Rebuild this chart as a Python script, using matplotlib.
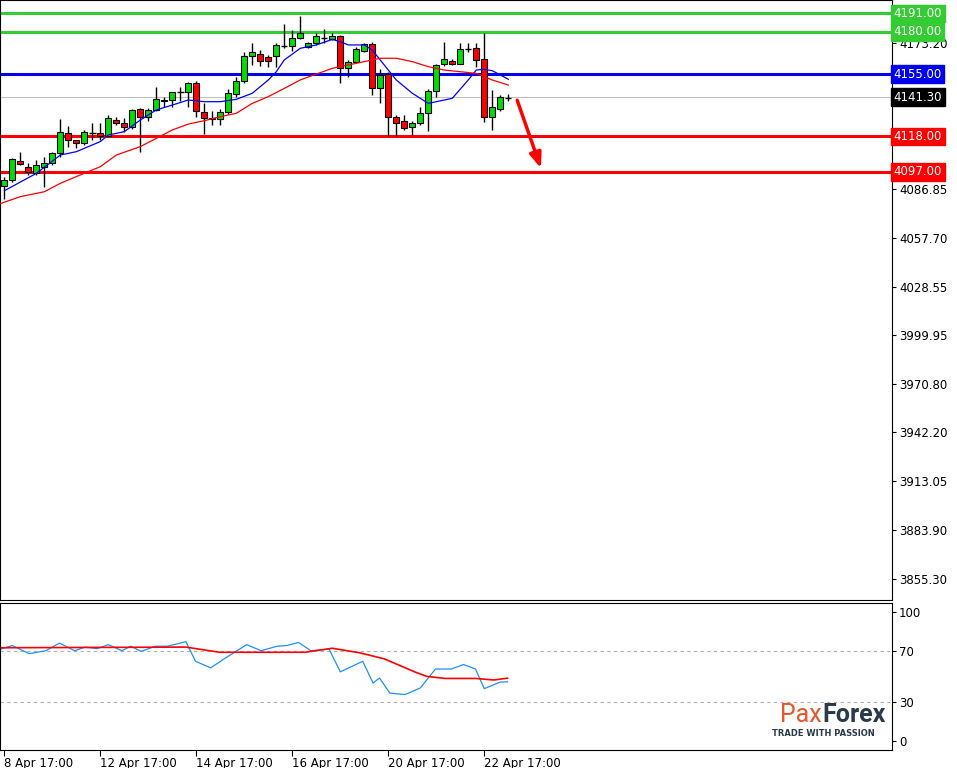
import matplotlib
matplotlib.use("Agg")
import matplotlib.pyplot as plt
import numpy as np

opens = [4088.7,4092.1,4103.2,4100.0,4096.0,4100.0,4102.0,4107.9,4119.8,4115.6,4113.9,4119.8,4119.8,4118.2,4127.7,4125.7,4123.4,4134.1,4129.3,4133.7,4139.8,4139.6,4144.6,4144.2,4149.5,4132.7,4128.5,4128.1,4132.7,4143.0,4150.9,4165.7,4166.9,4165.3,4165.7,4171.9,4171.9,4176.2,4171.3,4173.3,4176.2,4175.8,4177.6,4158.4,4162.0,4168.9,4172.7,4146.9,4155.0,4129.7,4127.3,4123.4,4125.7,4131.7,4145.1,4160.8,4162.8,4161.0,4169.7,4170.3,4163.8,4129.7,4134.1,4141.0]
closes = [4092.1,4104.8,4101.4,4097.0,4100.8,4102.0,4107.9,4120.4,4115.8,4113.9,4120.4,4120.2,4118.2,4128.7,4126.1,4123.4,4133.7,4129.3,4133.7,4140.2,4139.2,4144.2,4144.9,4149.5,4133.1,4128.7,4129.1,4132.7,4143.6,4150.7,4165.7,4167.9,4163.0,4163.0,4172.3,4172.3,4176.2,4179.2,4173.3,4177.6,4176.6,4177.6,4158.4,4162.0,4169.9,4172.7,4146.9,4154.5,4129.7,4125.7,4123.2,4125.7,4131.7,4145.1,4160.4,4163.8,4161.0,4169.7,4170.1,4163.4,4129.7,4135.6,4141.2,4141.4]
highs = [4094.1,4105.1,4108.5,4102.0,4104.0,4105.9,4108.9,4128.3,4124.2,4115.8,4121.8,4125.7,4125.7,4130.7,4129.3,4128.7,4134.1,4134.7,4134.7,4147.1,4141.6,4144.6,4147.1,4150.5,4151.1,4137.6,4133.1,4134.1,4145.9,4153.5,4168.3,4173.3,4169.3,4166.3,4173.7,4184.7,4181.2,4189.5,4174.2,4179.2,4181.8,4179.2,4178.2,4163.4,4171.3,4173.7,4174.2,4157.8,4156.4,4130.7,4130.7,4127.3,4135.6,4145.9,4161.0,4174.2,4163.8,4173.3,4173.7,4173.3,4179.2,4145.5,4142.6,4143.0]
lows = [4080.6,4091.1,4101.0,4095.1,4095.1,4088.1,4101.0,4105.9,4111.9,4111.3,4112.9,4115.8,4115.8,4117.8,4124.8,4120.8,4122.2,4108.9,4127.3,4133.3,4135.2,4135.6,4139.2,4135.6,4129.7,4119.4,4124.8,4124.8,4131.3,4141.6,4149.5,4160.2,4159.8,4159.0,4159.0,4170.3,4168.9,4175.8,4170.3,4172.3,4173.3,4175.2,4149.5,4153.1,4161.4,4167.9,4142.6,4138.0,4118.2,4118.2,4121.8,4118.8,4124.8,4121.4,4141.6,4160.0,4160.4,4161.0,4168.3,4159.4,4126.3,4121.8,4133.3,4139.0]

ma_fast_x = [0,4,7,9,12,13,15,17,19,21,23,25,27,29,31,33,34,35,37,39,41,42,43,45,46,48,49,51,53,54,56,58,59,60,61,62,63]
ma_fast_y = [4085.7,4096.0,4106.9,4108.9,4114.9,4118.8,4120.8,4127.7,4133.7,4136.6,4139.6,4138.6,4138.6,4140.0,4143.6,4151.5,4156.4,4163.4,4170.3,4172.3,4175.6,4174.2,4172.3,4172.3,4169.3,4157.4,4151.5,4143.6,4137.6,4138.6,4140.6,4151.5,4157.4,4157.8,4157.0,4154.5,4151.9]
ma_slow_x = [-1,2,5,7,9,12,14,17,19,21,23,25,27,29,31,33,35,37,39,41,43,45,47,49,51,53,55,57,59,61,63]
ma_slow_y = [4077.2,4082.2,4085.1,4090.1,4094.1,4100.0,4106.9,4111.9,4116.8,4121.8,4125.3,4127.3,4129.7,4131.7,4137.6,4141.6,4146.5,4151.5,4155.0,4158.4,4160.4,4162.4,4164.4,4164.4,4162.4,4159.4,4157.4,4156.4,4155.4,4151.5,4148.5]

osc_x = [-0.5,1.0,3.1,5.2,6.9,8.8,10.1,11.6,13.0,14.7,15.8,17.1,18.9,20.4,22.7,23.9,25.8,27.6,30.3,32.1,34.1,35.3,36.8,38.3,40.6,42.0,44.8,46.1,46.9,48.2,50.1,52.0,53.9,55.9,57.4,58.9,60.0,62.0,62.9]
osc_y = [71.2,74.0,67.7,70.0,75.9,70.0,72.8,71.6,74.7,70.0,73.5,69.5,73.5,73.5,77.0,61.8,56.7,64.2,74.7,70.0,73.5,74.0,76.4,70.0,71.2,53.6,61.8,44.9,48.8,37.1,36.0,41.1,55.8,55.8,59.3,55.8,40.6,45.7,45.9]
sig_x = [-0.5,22.7,26.9,37.6,41.0,44.4,47.5,51.3,52.8,55.1,58.9,61.2,62.9]
sig_y = [72.3,72.8,68.8,68.8,71.9,68.4,63.7,53.6,50.1,48.5,48.5,47.3,48.7]

tick_pos = [0,12,24,36,48,60]
tick_labels = ["8 Apr 17:00","12 Apr 17:00","14 Apr 17:00","16 Apr 17:00","20 Apr 17:00","22 Apr 17:00"]
price_ticks = [4173.20,4086.85,4057.70,4028.55,3999.95,3970.80,3942.20,3913.05,3883.90,3855.30]
levels = [4191.00,4180.00,4155.00,4118.00,4097.00]
level_colors = ["#33cc33","#33cc33","#0000ee","#ff0000","#ff0000"]
last_price = 4141.30

W, H = 957, 768
fig = plt.figure(figsize=(W/100, H/100), dpi=100)
xl = (-0.54, 110.97)
ax = fig.add_axes([0, 168/H, 892/W, 600/H])
ax2 = fig.add_axes([0, 18/H, 892/W, 147/H])
for a in (ax, ax2):
    a.set_xlim(*xl)
    for s in a.spines.values():
        s.set_color("black")
ax.set_ylim(3842.6, 4199.0)
ax2.set_ylim(-7, 107)

ax.axhline(last_price, color="#c0c0c0", lw=0.8)
for lv, c in zip(levels, level_colors):
    ax.axhline(lv, color=c, lw=2.2)

for i in range(len(opens)):
    o, c, h, l = opens[i], closes[i], highs[i], lows[i]
    ax.vlines(i, l, h, color="black", lw=1)
    col = "#00dd00" if c > o else ("#ff0000" if c < o else "black")
    lo, hi = min(o, c), max(o, c)
    if hi - lo < 0.6:
        ax.hlines(o, i-0.4, i+0.4, color="black", lw=1)
    else:
        ax.bar(i, hi-lo, bottom=lo, width=0.75, color=col, edgecolor="black", lw=0.8, zorder=3)
ax.plot(ma_fast_x, ma_fast_y, color="#0000ff", lw=0.9, zorder=4)
ax.plot(ma_slow_x, ma_slow_y, color="#ff0000", lw=0.9, zorder=4)
ax.annotate("", xy=(67.2, 4097.5), xytext=(64.0, 4141.0),
            arrowprops=dict(arrowstyle="-|>,head_length=0.9,head_width=0.35", color="#ff0000", lw=2.5))

ax.set_xticks([])
ax.yaxis.tick_right()
ax.set_yticks(price_ticks)
ax.set_yticklabels([f"{p:.2f}" for p in price_ticks], fontsize=8.5)
ax.tick_params(axis="y", length=3, pad=2)
for lv, c in zip(levels, level_colors):
    ax.text(1.002, lv, f"{lv:.2f}", transform=ax.get_yaxis_transform(), fontsize=8.5, color="white",
            va="center", ha="left", bbox=dict(boxstyle="square,pad=0.2", fc=c, ec=c), clip_on=False)
ax.text(1.002, last_price, f"{last_price:.2f}", transform=ax.get_yaxis_transform(), fontsize=8.5, color="white",
        va="center", ha="left", bbox=dict(boxstyle="square,pad=0.2", fc="black", ec="black"), clip_on=False)

for v in (70, 30):
    ax2.axhline(v, color="#b0b0b0", lw=0.8, ls=(0, (3, 3)))
ax2.plot(osc_x, osc_y, color="#1e90ff", lw=0.9)
ax2.plot(sig_x, sig_y, color="#ff0000", lw=1.2)
ax2.yaxis.tick_right()
ax2.set_yticks([100, 70, 30, 0])
ax2.set_yticklabels(["100", "70", "30", "0"], fontsize=8.5)
ax2.tick_params(axis="y", length=3, pad=2)
ax2.set_xticks(tick_pos)
ax2.set_xticklabels(tick_labels, fontsize=8.5, ha="left")
ax2.tick_params(axis="x", length=4, pad=1)

fig.text(822/W, 1 - 722/H, "Pax", ha="right", va="baseline", fontsize=18,
         color="#e8562a", family="Roboto")
fig.text(822/W, 1 - 722/H, "Forex", ha="left", va="baseline", fontsize=18,
         color="#2b3a4a", fontweight="bold", family="Roboto")
fig.text(823/W, 1 - 736/H, "TRADE WITH PASSION", ha="center", va="baseline", fontsize=6,
         color="#2b3a4a", fontweight="bold")

fig.savefig("out.png", dpi=100)
